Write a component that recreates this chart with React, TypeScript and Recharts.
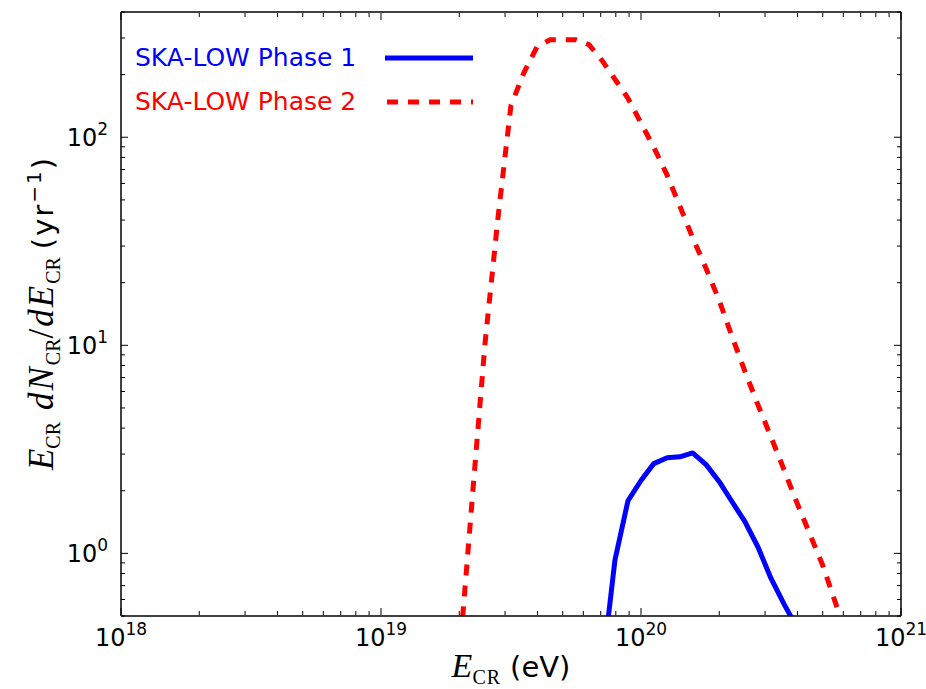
import { LineChart, Line, XAxis, YAxis } from 'recharts';

/* ── Data ─────────────────────────────────────────────────────────────────── */

// cosmic-ray energy (eV), one point every 0.05 dex
const phase1Energy = [
  7.08e19, 7.94e19, 8.91e19, 1.0e20, 1.12e20, 1.26e20, 1.41e20, 1.58e20,
  1.78e20, 2.0e20, 2.24e20, 2.51e20, 2.82e20, 3.16e20, 3.55e20, 3.98e20,
];
const phase1Rate = [
  0.27, 0.93, 1.79, 2.24, 2.7, 2.88, 2.91, 3.04, 2.67, 2.21, 1.77, 1.42, 1.07,
  0.76, 0.57, 0.44,
];

const phase2Energy = [
  2.0e19, 2.24e19, 2.51e19, 2.82e19, 3.16e19, 3.55e19, 3.98e19, 4.47e19,
  5.01e19, 5.62e19, 6.31e19, 7.08e19, 7.94e19, 8.91e19, 1.0e20, 1.12e20,
  1.26e20, 1.41e20, 1.58e20, 1.78e20, 2.0e20, 2.24e20, 2.51e20, 2.82e20,
  3.16e20, 3.55e20, 3.98e20, 4.47e20, 5.01e20, 5.62e20, 6.31e20,
];
const phase2Rate = [
  0.31, 1.79, 10.1, 41.4, 142, 205, 272, 294, 294, 294, 279, 234, 190, 154,
  117, 89.6, 65.8, 46.7, 32.9, 23.4, 16.4, 11.0, 7.5, 5.16, 3.63, 2.52, 1.75,
  1.23, 0.87, 0.57, 0.38,
];

const seriesNames = ['SKA-LOW Phase 1', 'SKA-LOW Phase 2'];

// axis ticks
const xMajorTicks = [1e18, 1e19, 1e20, 1e21];
const xMajorLabels = ['18', '19', '20', '21'];
const xMinorTicks = [
  2e18, 3e18, 4e18, 5e18, 6e18, 7e18, 8e18, 9e18,
  2e19, 3e19, 4e19, 5e19, 6e19, 7e19, 8e19, 9e19,
  2e20, 3e20, 4e20, 5e20, 6e20, 7e20, 8e20, 9e20,
];
const yMajorTicks = [1, 10, 100];
const yMajorLabels = ['0', '1', '2'];
const yMinorTicks = [
  0.5, 0.6, 0.7, 0.8, 0.9, 2, 3, 4, 5, 6, 7, 8, 9,
  20, 30, 40, 50, 60, 70, 80, 90, 200, 300, 400,
];

const xDomain = [1e18, 1e21];
const yDomain = [0.5, 400];

const phase1 = phase1Energy.map((x, i) => ({ x, y: phase1Rate[i] }));
const phase2 = phase2Energy.map((x, i) => ({ x, y: phase2Rate[i] }));

/* ── Styling ──────────────────────────────────────────────────────────────── */

const SANS = '"DejaVu Sans", sans-serif';
const SERIF = '"Liberation Serif", serif';
const BLUE = '#0000ff';
const RED = '#ff0000';
const MAJOR = 7;
const MINOR = 4;

const legendItems = [
  { name: seriesNames[0], color: BLUE, dash: undefined },
  { name: seriesNames[1], color: RED, dash: '11 10' },
];

/* ── Ticks (drawn inward, matplotlib style) ───────────────────────────────── */
// axes are 1px thick boxes, so bottom/top tick origins sit 1px off the frame

function BottomTick({ x, y, payload }: any) {
  const idx = xMajorTicks.indexOf(payload.value);
  const major = idx >= 0;
  const base = y - 1;
  return (
    <g>
      <line x1={x} x2={x} y1={base} y2={base - (major ? MAJOR : MINOR)} stroke="#000" />
      {major && (
        <text x={x} y={base + 31} textAnchor="middle" fontFamily={SANS} fontSize={24} fill="#000">
          10
          <tspan dy={-11} fontSize={17}>{xMajorLabels[idx]}</tspan>
        </text>
      )}
    </g>
  );
}

function TopTick({ x, y, payload }: any) {
  const major = xMajorTicks.includes(payload.value);
  const base = y + 1;
  return <line x1={x} x2={x} y1={base} y2={base + (major ? MAJOR : MINOR)} stroke="#000" />;
}

function LeftTick({ x, y, payload }: any) {
  const idx = yMajorTicks.indexOf(payload.value);
  const major = idx >= 0;
  return (
    <g>
      <line x1={x} x2={x + (major ? MAJOR : MINOR)} y1={y} y2={y} stroke="#000" />
      {major && (
        <text x={x - 13} y={y + 9} textAnchor="end" fontFamily={SANS} fontSize={24} fill="#000">
          10
          <tspan dy={-11} fontSize={17}>{yMajorLabels[idx]}</tspan>
        </text>
      )}
    </g>
  );
}

function RightTick({ x, y, payload }: any) {
  const major = yMajorTicks.includes(payload.value);
  return <line x1={x} x2={x - (major ? MAJOR : MINOR)} y1={y} y2={y} stroke="#000" />;
}

/* ── Axis titles ──────────────────────────────────────────────────────────── */

function XTitle({ viewBox }: any) {
  const cx = viewBox.x + viewBox.width / 2;
  return (
    <text x={cx} y={viewBox.y + 61} textAnchor="middle" fill="#000">
      <tspan fontFamily={SERIF} fontStyle="italic" fontSize={34}>E</tspan>
      <tspan fontFamily={SERIF} fontSize={20} dy={7} letterSpacing={1}>CR</tspan>
      <tspan fontFamily={SANS} fontSize={29} dy={-7} dx={9}>(eV)</tspan>
    </text>
  );
}

function YTitle({ viewBox }: any) {
  const cy = viewBox.y + viewBox.height / 2;
  return (
    <text transform={`translate(53, ${cy}) rotate(-90)`} textAnchor="middle" fill="#000">
      <tspan fontFamily={SERIF} fontStyle="italic" fontSize={35}>E</tspan>
      <tspan fontFamily={SERIF} fontSize={20} dy={7}>CR</tspan>
      <tspan fontFamily={SERIF} fontStyle="italic" fontSize={35} dy={-7} dx={12} letterSpacing={2}>dN</tspan>
      <tspan fontFamily={SERIF} fontSize={20} dy={7}>CR</tspan>
      <tspan fontFamily={SERIF} fontSize={35} dy={-7} letterSpacing={2}>/</tspan>
      <tspan fontFamily={SERIF} fontStyle="italic" fontSize={35} letterSpacing={2}>dE</tspan>
      <tspan fontFamily={SERIF} fontSize={20} dy={7}>CR</tspan>
      <tspan fontFamily={SANS} fontSize={29} dy={-7} dx={8} letterSpacing={2}>(yr</tspan>
      <tspan fontFamily={SANS} fontSize={20} dy={-12} letterSpacing={2}>−1</tspan>
      <tspan fontFamily={SANS} fontSize={29} dy={12}>)</tspan>
    </text>
  );
}

/* ── Legend (text first, sample after) ────────────────────────────────────── */

function LegendBox() {
  return (
    <div style={{ position: 'absolute', left: 135, top: 36, fontFamily: SANS, fontSize: 25 }}>
      {legendItems.map((item) => (
        <div key={item.name} style={{ display: 'flex', alignItems: 'center', height: 44 }}>
          <span style={{ width: 250, color: item.color, lineHeight: '44px' }}>{item.name}</span>
          <svg width={90} height={10} style={{ display: 'block' }}>
            <line x1={item.dash ? 2 : 0} x2={88} y1={5} y2={5} stroke={item.color} strokeWidth={5} strokeDasharray={item.dash} />
          </svg>
        </div>
      ))}
    </div>
  );
}

/* ── Chart ────────────────────────────────────────────────────────────────── */

export default function App() {
  const xTicks = [...xMajorTicks, ...xMinorTicks];
  const yTicks = [...yMajorTicks, ...yMinorTicks];
  const frame = { stroke: '#000', strokeWidth: 1.5 };

  return (
    <div style={{ position: 'absolute', left: 0, top: 0, width: 926, height: 689, background: '#fff', overflow: 'hidden' }}>
      <LineChart width={926} height={689} margin={{ top: 11, right: 24, bottom: 72, left: 120 }}>
        <XAxis
          xAxisId="b"
          dataKey="x"
          type="number"
          scale="log"
          domain={xDomain}
          allowDataOverflow
          ticks={xTicks}
          interval={0}
          height={1}
          tickSize={0}
          tickMargin={0}
          tickLine={false}
          axisLine={frame}
          tick={<BottomTick />}
          label={<XTitle />}
        />
        <XAxis
          xAxisId="t"
          orientation="top"
          dataKey="x"
          type="number"
          scale="log"
          domain={xDomain}
          allowDataOverflow
          ticks={xTicks}
          interval={0}
          height={1}
          tickSize={0}
          tickMargin={0}
          tickLine={false}
          axisLine={frame}
          tick={<TopTick />}
        />
        <YAxis
          yAxisId="l"
          type="number"
          scale="log"
          domain={yDomain}
          allowDataOverflow
          ticks={yTicks}
          interval={0}
          width={1}
          tickSize={0}
          tickMargin={0}
          tickLine={false}
          axisLine={frame}
          tick={<LeftTick />}
          label={<YTitle />}
        />
        <YAxis
          yAxisId="r"
          orientation="right"
          type="number"
          scale="log"
          domain={yDomain}
          allowDataOverflow
          ticks={yTicks}
          interval={0}
          width={1}
          tickSize={0}
          tickMargin={0}
          tickLine={false}
          axisLine={frame}
          tick={<RightTick />}
        />
        <Line
          xAxisId="b"
          yAxisId="l"
          data={phase1}
          dataKey="y"
          name={seriesNames[0]}
          type="linear"
          stroke={BLUE}
          strokeWidth={5}
          strokeLinejoin="round"
          dot={false}
          activeDot={false}
          isAnimationActive={false}
        />
        <Line
          xAxisId="b"
          yAxisId="l"
          data={phase2}
          dataKey="y"
          name={seriesNames[1]}
          type="linear"
          stroke={RED}
          strokeWidth={5}
          strokeDasharray="11 10"
          dot={false}
          activeDot={false}
          isAnimationActive={false}
        />
        {/* keep the mirrored axes bound to the same data */}
        <Line xAxisId="t" yAxisId="r" data={phase1} dataKey="y" stroke="none" dot={false} activeDot={false} isAnimationActive={false} legendType="none" />
      </LineChart>
      <LegendBox />
    </div>
  );
}
